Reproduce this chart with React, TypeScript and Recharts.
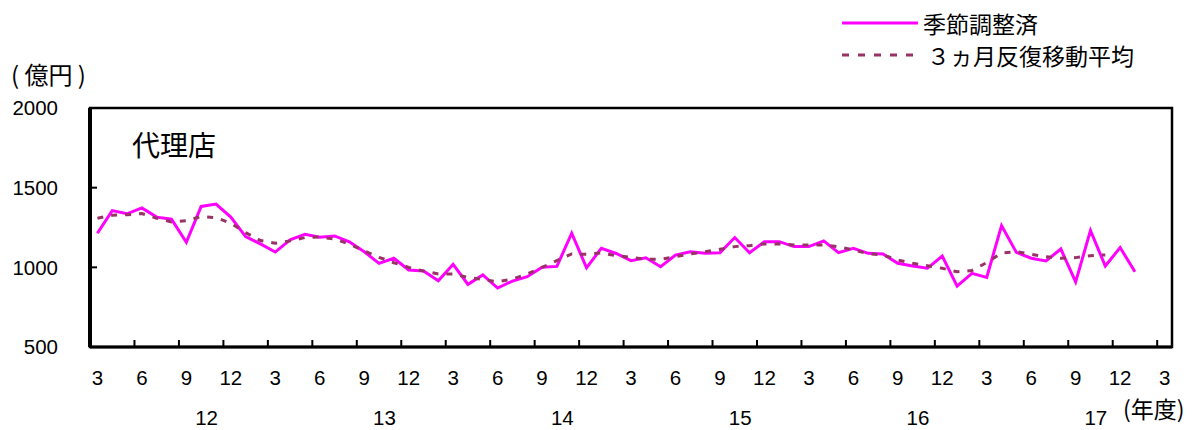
import React from "react";
import { LineChart, Line, XAxis, YAxis, ReferenceArea } from "recharts";

// monthly categories, Mar 2012 .. Mar 2018
const months = Array.from({ length: 73 }, (_, i) => {
  const t = 2 + i;
  const y = 2012 + Math.floor(t / 12);
  const mo = (t % 12) + 1;
  return `${y}-${String(mo).padStart(2, "0")}`;
});

// 季節調整済 (Mar 2012 .. Jan 2018)
const seasonal = [
  1214, 1356, 1336, 1373, 1315, 1302, 1157, 1382, 1397, 1315, 1193, 1147,
  1096, 1172, 1208, 1189, 1197, 1160, 1098, 1025, 1057, 983, 977, 916,
  1019, 893, 952, 870, 914, 941, 1000, 1006, 1214, 997, 1120, 1087,
  1042, 1060, 1004, 1077, 1098, 1088, 1092, 1187, 1092, 1161, 1161, 1130,
  1130, 1166, 1092, 1120, 1088, 1084, 1025, 1008, 994, 1071, 882, 962,
  937, 1262, 1094, 1057, 1040, 1115, 909, 1231, 1008, 1124, 972,
];

// ３ヵ月反復移動平均 (Mar 2012 .. Nov 2017)
const movingAvg = [
  1308, 1327, 1330, 1338, 1308, 1285, 1292, 1319, 1312, 1277, 1218, 1168,
  1151, 1166, 1187, 1190, 1178, 1145, 1103, 1063, 1029, 1000, 977, 958,
  958, 937, 924, 909, 926, 958, 1000, 1042, 1084, 1082, 1090, 1073,
  1063, 1050, 1050, 1067, 1084, 1098, 1113, 1130, 1136, 1147, 1147, 1140,
  1140, 1140, 1130, 1109, 1085, 1078, 1046, 1025, 1010, 994, 972, 980,
  1030, 1090, 1098, 1082, 1067, 1057, 1061, 1073, 1078,
];

const yTicks = [500, 1000, 1500, 2000];

const data = months.map((m, i) => ({
  m,
  sa: i < seasonal.length ? seasonal[i] : null,
  ma: i < movingAvg.length ? movingAvg[i] : null,
}));

const W = 1194;
const H = 430;
const PLOT_LEFT = 90;
const PLOT_RIGHT = 1172;
const BAND = (PLOT_RIGHT - PLOT_LEFT) / months.length;

const FONT = '"Liberation Sans", Arial, "Noto Sans CJK JP", sans-serif';
const JP = '"Noto Sans CJK JP", "Liberation Sans", sans-serif';
const MAGENTA = "#FF00FF";
const PLUM = "#993366";

function MonthTick(props: any) {
  const { x, y, payload } = props;
  const i = months.indexOf(payload.value);
  const [yr, moStr] = String(payload.value).split("-");
  const mo = Number(moStr);
  return (
    <g>
      {mo % 3 === 0 && (
        <text x={x} y={y + 31} dy="0.35em" textAnchor="middle" fontSize={20.5} fontFamily={FONT} fill="#000">
          {mo}
        </text>
      )}
      {mo % 3 === 0 && i > 0 && (
        <line x1={x - BAND / 2} x2={x - BAND / 2} y1={y} y2={y - 7} stroke="#000" strokeWidth={2} />
      )}
      {mo === 10 && (
        <text x={x + BAND / 2 - 2} y={y + 71} dy="0.35em" textAnchor="middle" fontSize={20.5} fontFamily={FONT} fill="#000">
          {Number(yr) % 100}
        </text>
      )}
    </g>
  );
}

function ValueTick(props: any) {
  const { y, payload } = props;
  return (
    <g>
      <text x={PLOT_LEFT - 32} y={y} dy="0.35em" textAnchor="end" fontSize={20.5} fontFamily={FONT} fill="#000">
        {payload.value}
      </text>
      <line x1={PLOT_LEFT} x2={PLOT_LEFT + 7} y1={y} y2={y} stroke="#000" strokeWidth={2} />
    </g>
  );
}

export default function App() {
  return (
    <div style={{ position: "fixed", left: 0, top: 0, width: W, height: H, background: "#fff" }}>
      <LineChart
        width={W}
        height={H}
        data={data}
        margin={{ top: 108, right: W - PLOT_RIGHT, left: 0, bottom: 0 }}
      >
        <XAxis
          dataKey="m"
          scale="band"
          interval={0}
          height={83}
          tickLine={false}
          tickSize={0}
          tickMargin={0}
          axisLine={{ stroke: "#000", strokeWidth: 3 }}
          tick={<MonthTick />}
        />
        <YAxis
          type="number"
          domain={[500, 2000]}
          ticks={yTicks}
          width={PLOT_LEFT}
          tickLine={false}
          tickSize={0}
          tickMargin={0}
          axisLine={{ stroke: "#000", strokeWidth: 4 }}
          tick={<ValueTick />}
        />
        <ReferenceArea y1={500} y2={2000} fill="none" stroke="#000" strokeWidth={2.5} ifOverflow="visible" />
        <Line
          type="linear"
          dataKey="sa"
          stroke={MAGENTA}
          strokeWidth={3}
          dot={false}
          activeDot={false}
          isAnimationActive={false}
        />
        <Line
          type="linear"
          dataKey="ma"
          stroke={PLUM}
          strokeWidth={3}
          strokeDasharray="6 8"
          dot={false}
          activeDot={false}
          isAnimationActive={false}
        />
      </LineChart>

      <div style={{ position: "absolute", left: 11, top: 59, fontFamily: JP, fontSize: 24, lineHeight: "30px", whiteSpace: "pre" }}>
        {"( 億円 )"}
      </div>
      <div style={{ position: "absolute", left: 132, top: 125, fontFamily: JP, fontSize: 28, lineHeight: "38px", whiteSpace: "nowrap" }}>
        代理店
      </div>
      <div style={{ position: "absolute", left: 1123, top: 393, fontFamily: JP, fontSize: 23, lineHeight: "30px", whiteSpace: "nowrap" }}>
        (年度)
      </div>

      <div style={{ position: "absolute", left: 842, top: 7, fontFamily: JP, fontSize: 23, lineHeight: "32px" }}>
        <div style={{ display: "flex", alignItems: "center", height: 32 }}>
          <svg width={76} height={6} style={{ display: "block" }}>
            <line x1={0} x2={76} y1={3} y2={3} stroke={MAGENTA} strokeWidth={3} />
          </svg>
          <span style={{ marginLeft: 5, whiteSpace: "nowrap" }}>季節調整済</span>
        </div>
        <div style={{ display: "flex", alignItems: "center", height: 32 }}>
          <svg width={76} height={6} style={{ display: "block" }}>
            <line x1={0} x2={76} y1={3} y2={3} stroke={PLUM} strokeWidth={3} strokeDasharray="7 9" />
          </svg>
          <span style={{ marginLeft: 9, whiteSpace: "nowrap" }}>３ヵ月反復移動平均</span>
        </div>
      </div>
    </div>
  );
}
